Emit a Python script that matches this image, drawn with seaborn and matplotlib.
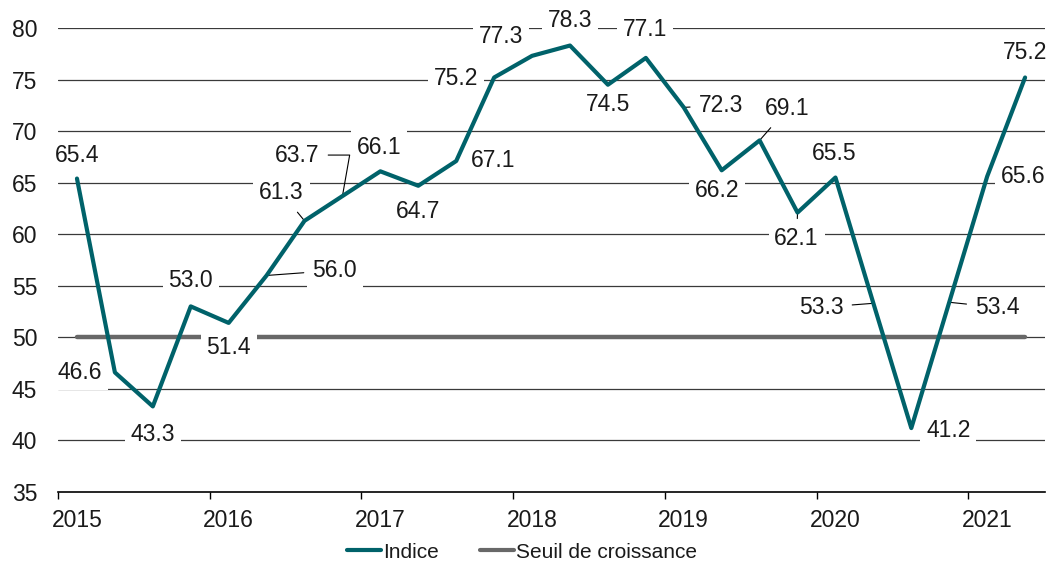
import numpy as np
import pandas as pd
import matplotlib
matplotlib.use("Agg")
import matplotlib.pyplot as plt
import seaborn as sns
from matplotlib.lines import Line2D

# ---- data ----
years = [2015, 2016, 2017, 2018, 2019, 2020, 2021]
quarters = ["2015T1", "2015T2", "2015T3", "2015T4",
            "2016T1", "2016T2", "2016T3", "2016T4",
            "2017T1", "2017T2", "2017T3", "2017T4",
            "2018T1", "2018T2", "2018T3", "2018T4",
            "2019T1", "2019T2", "2019T3", "2019T4",
            "2020T1", "2020T2", "2020T3", "2020T4",
            "2021T1", "2021T2"]
indice = [65.4, 46.6, 43.3, 53.0, 51.4, 56.0, 61.3, 63.7, 66.1, 64.7, 67.1, 75.2,
          77.3, 78.3, 74.5, 77.1, 72.3, 66.2, 69.1, 62.1, 65.5, 53.3, 41.2, 53.4,
          65.6, 75.2]
seuil = 50.0
yticks = [35, 40, 45, 50, 55, 60, 65, 70, 75, 80]
series_names = ["Indice", "Seuil de croissance"]

# decimal time at the middle of each quarter
def qpos(q):
    y = int(q[:4]); n = int(q[-1])
    return y + ((n - 1) * 3 + 1.5) / 12.0

xpos = [qpos(q) for q in quarters]
df = pd.DataFrame({"x": xpos, "Indice": indice})
df["Seuil de croissance"] = seuil
long = df.melt(id_vars="x", value_vars=series_names, var_name="serie", value_name="val")

# label offsets in pixels (dx, dy) and leader-line kind
offsets = [(0, 23, 0), (-35, 0, 0), (0, -28, 0), (0, 26, 0), (0, -25, 0), (68, 5, 1),
           (-23, 28, 1), (-45, 41, 2), (-1, 24, 0), (0, -26, 0), (37, 1, 0), (-38, -1, 0),
           (-31, 19, 0), (0, 25, 0), (0, -20, 0), (-1, 28, 0), (37, 2, 1), (-5, -20, 0),
           (28, 32, 1), (-1, -26, 1), (-1, 24, 0), (-52, -4, 1), (37, -2, 0), (48, -5, 1),
           (36, 0, 0), (0, 25, 0)]

TEAL = "#00626a"
GRAY = "#686868"
FS = 16.5
TXT = "#1a1a1a"

sns.set_theme(style="white")
plt.rcParams["font.family"] = ["Liberation Sans", "DejaVu Sans"]

fig = plt.figure(figsize=(10.62, 5.63), dpi=100)
ax = fig.add_axes([58 / 1062, 1 - 492 / 563, (1045 - 58) / 1062, (492 - 28) / 563])

# grid lines
for yv in yticks[1:]:
    ax.axhline(yv, color="#3a3a3a", lw=0.9, zorder=0.5)

sns.lineplot(data=long, x="x", y="val", hue="serie", hue_order=series_names,
             palette=[TEAL, GRAY], ax=ax, legend=False, sort=False)
for ln in ax.get_lines():
    c = matplotlib.colors.to_hex(ln.get_color())
    if c == TEAL:
        ln.set_linewidth(3.0); ln.set_zorder(3)
    elif c == GRAY:
        ln.set_linewidth(3.2); ln.set_zorder(1.5)

px = 0.72  # points per pixel at dpi 100
for x, v, (dx, dy, lead) in zip(xpos, indice, offsets):
    kw = dict(xy=(x, v), xytext=(dx * px, dy * px), textcoords="offset points",
              ha="center", va="center", fontsize=FS, color=TXT, zorder=2,
              annotation_clip=False,
              bbox=dict(boxstyle="square,pad=0.25", fc="white", ec="none"))
    if lead == 1:
        kw["arrowprops"] = dict(arrowstyle="-", color="black", lw=0.8,
                                shrinkA=2, shrinkB=0)
    elif lead == 2:
        kw["arrowprops"] = dict(arrowstyle="-", color="black", lw=0.8,
                                shrinkA=2, shrinkB=0,
                                connectionstyle="angle,angleA=0,angleB=80,rad=0")
    ax.annotate(f"{v:.1f}", **kw)

ax.set_xlim(2015, 2021 + (1045 - 58) / 151.7 - 6)
ax.set_ylim(35, 80)
ax.set_yticks(yticks)
ax.set_yticklabels([str(t) for t in yticks])
ax.set_xticks(years)
ax.set_xticklabels([""] * len(years))
ax.set_xticks([y + 0.125 for y in years], minor=True)
ax.set_xticklabels([str(y) for y in years], minor=True)
ax.tick_params(axis="y", length=0, pad=15, labelsize=FS, labelcolor=TXT)
ax.tick_params(axis="x", which="major", length=5, width=1, color="black", bottom=True)
ax.tick_params(axis="x", which="minor", length=0, pad=12, labelsize=FS, labelcolor=TXT)
ax.set_xlabel(""); ax.set_ylabel("")
for s in ["top", "right", "left"]:
    ax.spines[s].set_visible(False)
ax.spines["bottom"].set_color("black")
ax.spines["bottom"].set_linewidth(1.2)

handles = [Line2D([], [], color=TEAL, lw=3), Line2D([], [], color=GRAY, lw=3)]
fig.legend(handles, series_names, loc="center", bbox_to_anchor=(522 / 1062, 1 - 552 / 563),
           ncol=2, frameon=False, fontsize=15, handlelength=1.6, handletextpad=0.1,
           columnspacing=2.0, labelcolor=TXT, borderpad=0)

fig.savefig("out.png", dpi=100)
